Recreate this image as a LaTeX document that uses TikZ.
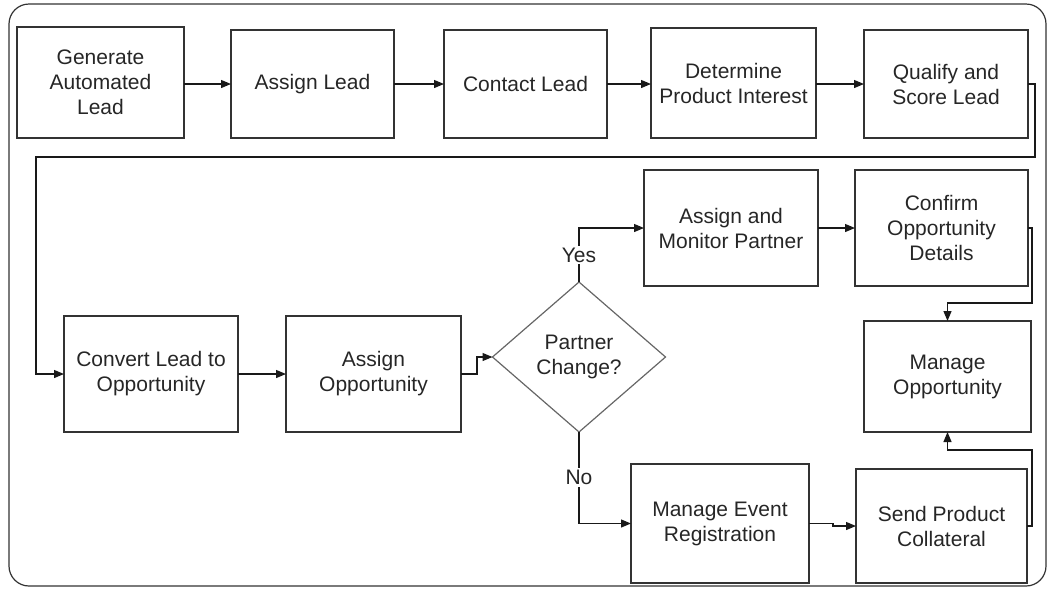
\documentclass[tikz,border=0pt]{standalone}
\usepackage{fontspec}
\setmainfont{Liberation Sans}
\usetikzlibrary{arrows.meta,shapes.geometric}
\begin{document}
\begin{tikzpicture}[x=1pt,y=-1pt,
  box/.style={draw=black!80,line width=1.2pt,rectangle,inner sep=0pt,outer sep=0pt,align=center,
    text=black!85,font=\fontsize{21}{25}\selectfont},
  dia/.style={draw=black!60,line width=1.2pt,diamond,inner sep=0pt,outer sep=0pt,align=center,
    text=black!85,font=\fontsize{21}{25}\selectfont,minimum width=173pt,minimum height=150pt,aspect=1.153},
  conn/.style={draw=black!90,line width=1.2pt,-{Triangle[length=10pt,width=8pt]}},
  lbl/.style={fill=white,inner sep=2pt,text=black!85,font=\fontsize{21}{25}\selectfont}]
\useasboundingbox (0,0) rectangle (1049,590);
\draw[black!80,line width=1.2pt,rounded corners=20pt] (9,4) rectangle (1046,586);

\node[box,minimum width=167pt,minimum height=111pt] (b1) at (100.5,82.5) {Generate\\Automated\\Lead};
\node[box,minimum width=163pt,minimum height=108pt] (b2) at (312.5,84) {Assign Lead};
\node[box,minimum width=163pt,minimum height=108pt] (b3) at (525.5,84) {Contact Lead};
\node[box,minimum width=165pt,minimum height=110pt] (b4) at (733.5,83) {Determine\\Product Interest};
\node[box,minimum width=164pt,minimum height=108pt] (b5) at (946,84) {Qualify and\\Score Lead};
\node[box,minimum width=174pt,minimum height=116pt] (b6) at (151,374) {Convert Lead to\\Opportunity};
\node[box,minimum width=175pt,minimum height=116pt] (b7) at (373.5,374) {Assign\\Opportunity};
\node[dia] (d) at (579,357) {Partner\\Change?};
\node[box,minimum width=174pt,minimum height=116pt] (b8) at (731,228) {Assign and\\Monitor Partner};
\node[box,minimum width=173pt,minimum height=116pt] (b9) at (941.5,228) {Confirm\\Opportunity\\Details};
\node[box,minimum width=167pt,minimum height=111pt] (b10) at (947.5,376.5) {Manage\\Opportunity};
\node[box,minimum width=171pt,minimum height=114pt] (b11) at (941.5,526) {Send Product\\Collateral};
\node[box,minimum width=178pt,minimum height=119pt] (b12) at (720,523.5) {Manage Event\\Registration};

\coordinate (r1) at (1035,157);
\coordinate (l1) at (36,157);
\coordinate (m1) at (1032,303);
\coordinate (m2) at (1032,450);

\draw[conn] (b1.east|-b2.west) -- (b2.west);
\draw[conn] (b2.east) -- (b3.west);
\draw[conn] (b3.east) -- (b4.west|-b3.east);
\draw[conn] (b4.east|-b5.west) -- (b5.west);
\draw[conn] (b5.east) -| (r1) -- (l1) |- (b6.west);
\draw[conn] (b6.east) -- (b7.west);
\draw[conn] (b7.east) -- ++(16,0) |- (d.west);
\draw[conn] (d.north) |- node[lbl,pos=0.25] {Yes} (b8.west);
\draw[conn] (d.south) |- node[lbl,pos=0.25] {No} (b12.west);
\draw[conn] (b8.east) -- (b9.west);
\draw[conn] (b9.east) -| (m1) -| (b10.north);
\draw[conn] (b11.east) -| (m2) -| (b10.south);
\draw[conn] (b12.east) -- ++(24,0) |- (b11.west);
\end{tikzpicture}
\end{document}
